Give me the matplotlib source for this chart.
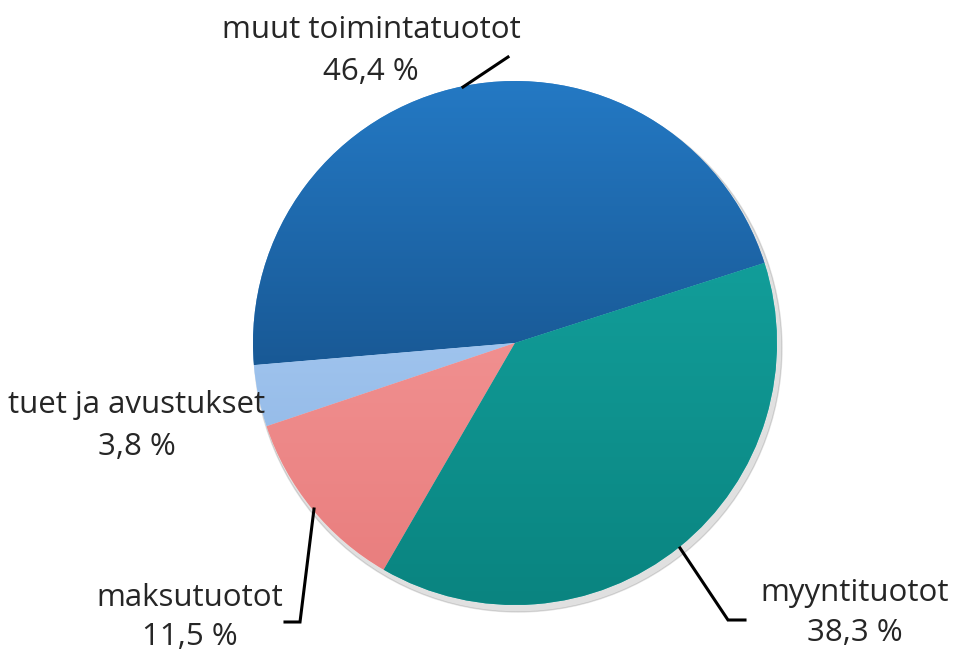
import numpy as np
import matplotlib
matplotlib.use("Agg")
import matplotlib.pyplot as plt
from matplotlib.colors import LinearSegmentedColormap

labels = ["muut toimintatuotot", "tuet ja avustukset", "maksutuotot", "myyntituotot"]
values = [46.4, 3.8, 11.5, 38.3]
pct_text = ["46,4 %", "3,8 %", "11,5 %", "38,3 %"]

top_colors = ["#2479c4", "#b8d9fb", "#f9a3a3", "#16aba7"]
bottom_colors = ["#0f3e6e", "#86aee0", "#e87c7c", "#0a8480"]

W, H = 957, 652
fig = plt.figure(figsize=(W / 100, H / 100), dpi=100)
ax = fig.add_axes([0, 0, 1, 1])

cx, cy, r = 515, H - 343, 262

# soft shadow under the pie
shadow = plt.Circle((cx + 3, cy - 5), r + 2, color="#000000", alpha=0.12, zorder=0)
ax.add_patch(shadow)

wedges, _ = ax.pie(values, startangle=17.8, counterclock=True, center=(cx, cy),
                   radius=r, colors=top_colors, frame=True,
                   wedgeprops=dict(linewidth=0.6, edgecolor="#ffffff40"))

# vertical gradient inside each wedge for a shaded look
grad = np.linspace(1, 0, 256).reshape(-1, 1)
for w, c1, c2 in zip(wedges, top_colors, bottom_colors):
    cmap = LinearSegmentedColormap.from_list("g", [c2, c1])
    im = ax.imshow(grad, cmap=cmap, extent=(cx - r, cx + r, cy - r, cy + r),
                   origin="upper", aspect="auto", zorder=w.get_zorder() + 0.1)
    im.set_clip_path(w)

ax.set_xlim(0, W)
ax.set_ylim(0, H)
ax.set_aspect("equal")
ax.axis("off")

font = ["Open Sans", "DejaVu Sans"]
fs = 22.5
txt_pos = [(371, 30, 72), (137, 405, 447), (190, 598, 637), (855, 593, 633)]
for lab, pt, (x, y1, y2) in zip(labels, pct_text, txt_pos):
    ax.text(x, H - y1, lab, ha="center", va="center", fontsize=fs, family=font, color="#262626")
    ax.text(x, H - y2, pt, ha="center", va="center", fontsize=fs, family=font, color="#262626")

leaders = [
    [(463, 87), (508, 57)],
    [(314, 509), (300, 622), (285, 622)],
    [(680, 548), (728, 620), (745, 620)],
]
for pts in leaders:
    xs = [p[0] for p in pts]
    ys = [H - p[1] for p in pts]
    ax.plot(xs, ys, color="black", lw=2.2, solid_joinstyle="miter", zorder=5)

fig.savefig("out.png", dpi=100)
